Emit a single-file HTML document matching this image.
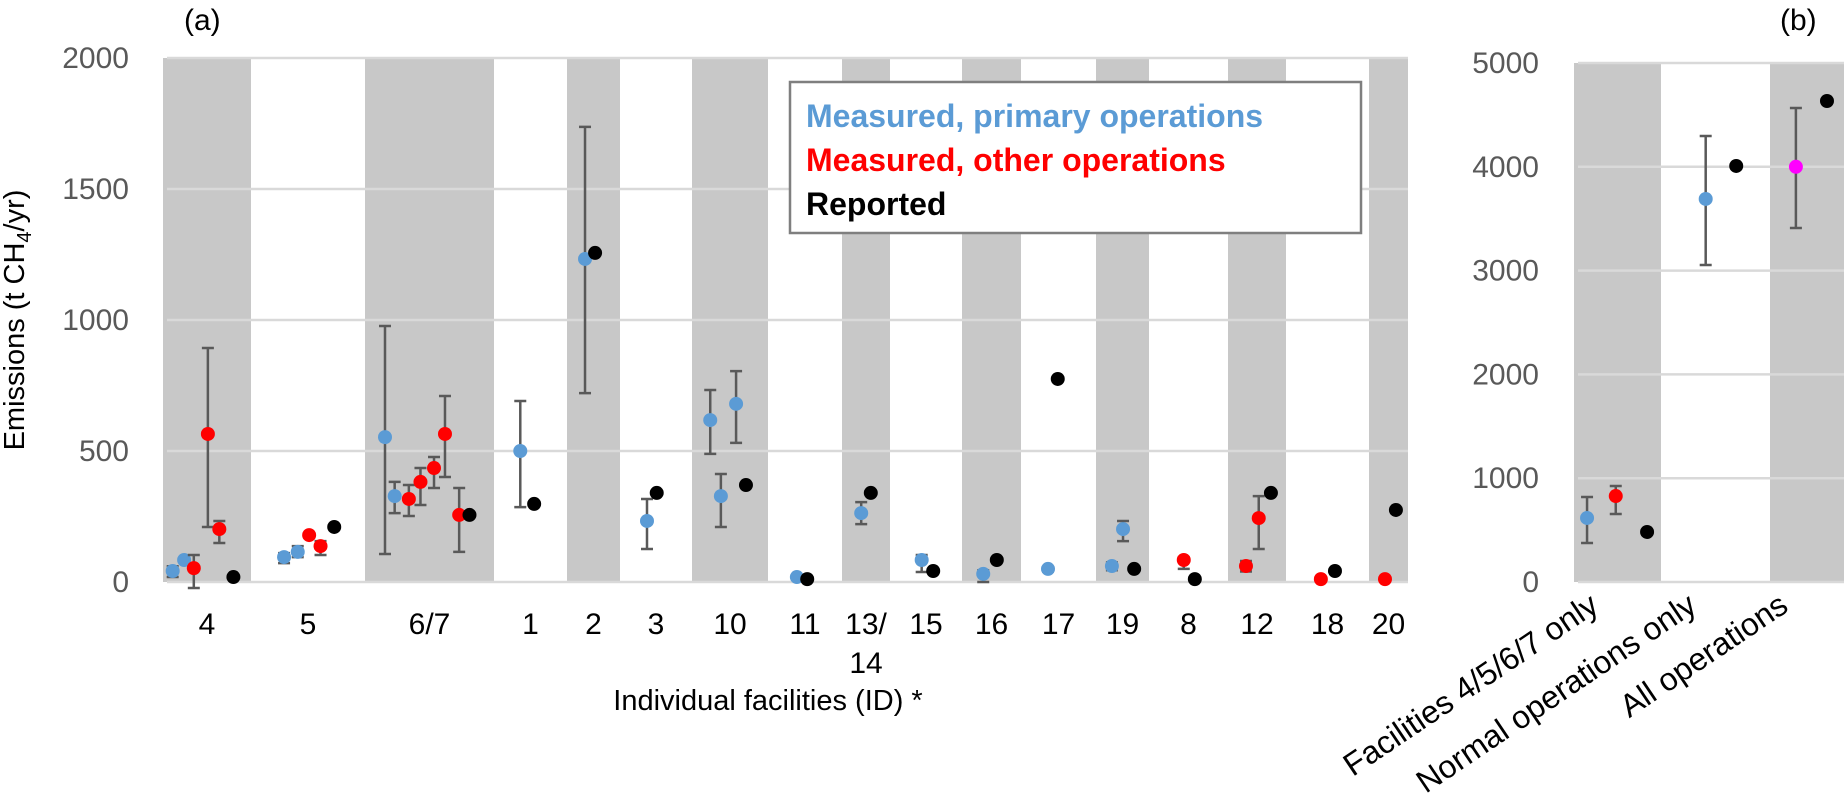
<!DOCTYPE html>
<html><head><meta charset="utf-8"><style>
html,body{margin:0;padding:0;background:#fff;}
svg{display:block;font-family:"Liberation Sans",Arial,sans-serif;}
</style></head><body>
<svg id="chart" width="1844" height="798" viewBox="0 0 1844 798" xmlns="http://www.w3.org/2000/svg">
<text x="184" y="30" font-size="30" fill="#000">(a)</text>
<text x="1780" y="30" font-size="30" fill="#000">(b)</text>
<text transform="translate(24,320) rotate(-90)" text-anchor="middle" font-size="29" fill="#000">Emissions (t CH<tspan font-size="20" dy="7">4</tspan><tspan dy="-7">/yr)</tspan></text>
<text x="768" y="710" text-anchor="middle" font-size="29" fill="#000">Individual facilities (ID) *</text>
<g id="pa"></g><g id="pb"></g>
<g>
<rect x="790" y="82" width="571" height="151" fill="#fff" stroke="#7f7f7f" stroke-width="2.5"/>
<text x="806" y="127" font-size="32" font-weight="bold" fill="#5b9bd5">Measured, primary operations</text>
<text x="806" y="171" font-size="32" font-weight="bold" fill="#ff0000">Measured, other operations</text>
<text x="806" y="215" font-size="32" font-weight="bold" fill="#000">Reported</text>
</g>
</svg>
<script>
// Panel (a) data
const catsA = ["4","5","6/7","1","2","3","10","11","13/14","15","16","17","19","8","12","18","20"];
const bandEdgesA = [163,251,365,494,567,620,692,768,842,890,962,1021,1096,1149,1228,1286,1369,1408];
const ptCatA = [0,0,0,0,0,0, 1,1,1,1,1, 2,2,2,2,2,2,2,2, 3,3, 4,4, 5,5, 6,6,6,6, 7,7, 8,8, 9,9, 10,10, 11,11, 12,12,12, 13,13, 14,14,14, 15,15, 16,16];
const ptPosA = [.11,.24,.35,.51,.64,.80, .29,.41,.51,.61,.73, .155,.23,.34,.43,.535,.62,.73,.81, .36,.55, .34,.53, .375,.51, .24,.38,.58,.71, .39,.53, .40,.60, .44,.60, .36,.59, .36,.49, .30,.51,.72, .44,.58, .31,.53,.74, .42,.59, .41,.69];
const ptSerA = ["b","b","r","r","r","k", "b","b","r","r","k", "b","b","r","r","r","r","r","k", "b","k", "b","k", "b","k", "b","b","b","k", "b","k", "b","k", "b","k", "b","k", "b","k", "b","b","k", "r","k", "r","r","k", "r","k", "r","k"];
const ptValA = [42,84,53,565,202,19, 95,115,179,137,210, 553,328,317,382,435,565,256,256, 500,298, 1233,1256, 233,340, 618,328,680,370, 19,11, 263,340, 84,42, 31,84, 50,775, 61,202,50, 84,11, 61,244,340, 11,42, 11,275];
const ptLoA = [19,null,-23,210,149,null, 72,95,null,103,null, 107,263,252,294,359,401,115,null, 286,null, 721,null, 126,null, 489,210,531,null, 10,null, 221,null, 38,null, 0,null, 40,null, 45,156,null, 50,null, 40,126,null, null,null, null,null];
const ptHiA = [60,null,103,893,233,null, 110,137,null,156,null, 977,382,370,435,477,710,359,null, 691,null, 1737,null, 317,null, 733,412,805,null, 25,null, 305,null, 103,null, 45,null, 58,null, 75,233,null, 95,null, 80,328,null, null,null, null,null];
const ticksA = [0,500,1000,1500,2000];
// Panel (b) data
const catsB = ["Facilities 4/5/6/7 only","Normal operations only","All operations"];
const bandEdgesB = [1574,1661,1770,1844];
const ptCatB = [0,0,0,1,1,2,2];
const ptPosB = [.15,.48,.84,.41,.69,.35,.77];
const ptSerB = ["b","r","k","b","k","m","k"];
const ptValB = [617,828,482,3690,4008,4000,4634];
const ptLoB = [376,655,null,3054,null,3410,null];
const ptHiB = [819,925,null,4297,null,4566,null];
const ticksB = [0,1000,2000,3000,4000,5000];

const NS="http://www.w3.org/2000/svg";
const colors={b:"#5b9bd5",r:"#ff0000",k:"#000000",m:"#ff00ff"};
const names={b:"primary",r:"other",k:"reported",m:"all-operations"};
function mk(parent,tag,attrs){const e=document.createElementNS(NS,tag);for(const k in attrs)e.setAttribute(k,attrs[k]);parent.appendChild(e);return e;}

function drawPanel(g,cats,edges,ptCat,ptPos,ptSer,ptVal,ptLo,ptHi,ticks,yMax,yTop,labelRight,panel,rotated){
  const y0=582;
  const yScale=v=>y0-(v/yMax)*(y0-yTop);
  const left=edges[0], right=edges[edges.length-1];
  for(let i=0;i<cats.length;i++){
    if(i%2===0){
      const r=mk(g,"rect",{x:edges[i],y:yTop,width:edges[i+1]-edges[i],height:y0-yTop,fill:"#c8c8c8"});
      
      
    }
  }
  ticks.forEach(t=>{
    const y=yScale(t);
    const l=mk(g,"line",{x1:left+4,x2:right,y1:y,y2:y,stroke:"#d9d9d9","stroke-width":2.5});
    
    
    const tx=mk(g,"text",{x:labelRight,y:y+10,"text-anchor":"end","font-size":30,fill:"#595959"});
    tx.textContent=t;
    
    
  });
  for(let i=0;i<cats.length;i++){
    const cx=(edges[i]+edges[i+1])/2;
    if(rotated){
      const t=mk(g,"text",{x:0,y:0,"text-anchor":"end","font-size":32,fill:"#000",transform:"translate("+(cx-17)+",610) rotate(-34)"});
      t.textContent=cats[i];
      
      
    } else {
      const parts=cats[i]==="13/14"?["13/","14"]:[cats[i]];
      parts.forEach((p,k)=>{
        const t=mk(g,"text",{x:cx,y:634+k*39,"text-anchor":"middle","font-size":30,fill:"#000"});
        t.textContent=p;
        
        
      });
    }
  }
  for(let j=0;j<ptVal.length;j++){
    const c=ptCat[j];
    const x=edges[c]+ptPos[j]*(edges[c+1]-edges[c]);
    if(ptLo[j]!==null){
      const ylo=yScale(ptLo[j]), yhi=yScale(ptHi[j]);
      const eb=mk(g,"path",{d:"M"+x+","+ylo+"V"+yhi+"M"+(x-6)+","+ylo+"H"+(x+6)+"M"+(x-6)+","+yhi+"H"+(x+6),stroke:"#595959","stroke-width":2.5,fill:"none"});
      
      
    }
    const p=mk(g,"circle",{cx:x,cy:yScale(ptVal[j]),r:7,fill:colors[ptSer[j]]});
    
    
  }
}
drawPanel(document.getElementById("pa"),catsA,bandEdgesA,ptCatA,ptPosA,ptSerA,ptValA,ptLoA,ptHiA,ticksA,2000,58,129,"a",false);
drawPanel(document.getElementById("pb"),catsB,bandEdgesB,ptCatB,ptPosB,ptSerB,ptValB,ptLoB,ptHiB,ticksB,5000,63,1539,"b",true);
</script>
</body></html>
